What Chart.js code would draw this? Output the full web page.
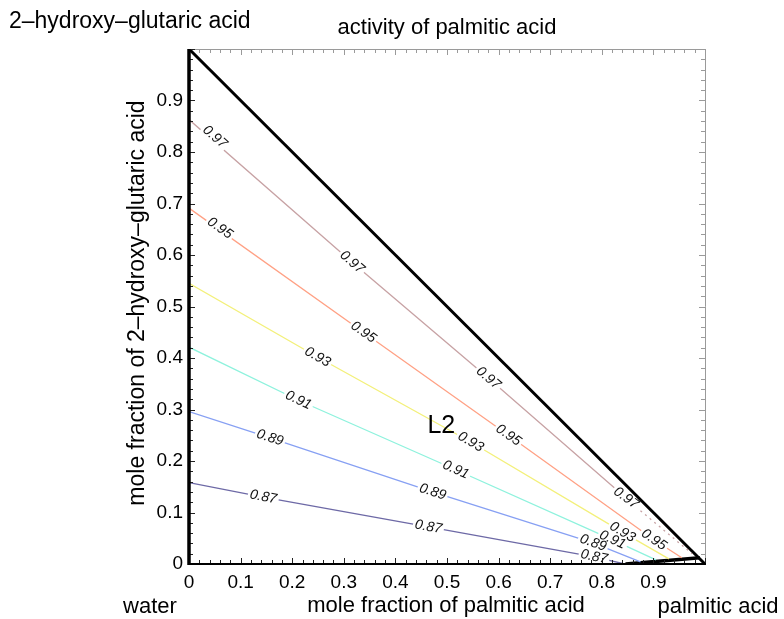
<!DOCTYPE html>
<html>
<head>
<meta charset="utf-8">
<script src="https://cdn.jsdelivr.net/npm/chart.js@4.4.0/dist/chart.umd.min.js"></script>
<style>
html, body { margin: 0; padding: 0; background: #fff; }
</style>
</head>
<body>
<canvas id="c" width="784" height="619"></canvas>
<script>
// contour lines (activity of palmitic acid)
const c97x = [0, 0.316, 0.58, 0.847, 0.866];
const c97y = [0.863, 0.586, 0.361, 0.128, 0.111];
const c97dx = [0.866, 0.975];
const c97dy = [0.111, 0.02];
const c95x = [0, 0.338, 0.619, 0.901, 0.955];
const c95y = [0.691, 0.45, 0.25, 0.047, 0.012];
const c93x = [0, 0.249, 0.546, 0.84, 0.93];
const c93y = [0.545, 0.402, 0.237, 0.062, 0.01];
const c91x = [0, 0.212, 0.517, 0.821, 0.905];
const c91y = [0.421, 0.318, 0.183, 0.047, 0.008];
const c89x = [0, 0.157, 0.472, 0.783, 0.875];
const c89y = [0.296, 0.245, 0.14, 0.041, 0.004];
const c87x = [0, 0.144, 0.464, 0.785, 0.84];
const c87y = [0.158, 0.13, 0.072, 0.014, 0.001];

// phase boundaries
const edgeX = [0, 1];
const edgeY = [1, 0];
const solidX = [0.846, 0.99];
const solidY = [0, 0.012];

// contour label positions
const lab97x = [0.05, 0.316, 0.58, 0.847];
const lab97y = [0.829, 0.586, 0.361, 0.128];
const lab95x = [0.06, 0.338, 0.619, 0.901];
const lab95y = [0.652, 0.45, 0.25, 0.047];
const lab93x = [0.249, 0.546, 0.84];
const lab93y = [0.402, 0.237, 0.062];
const lab91x = [0.212, 0.517, 0.821];
const lab91y = [0.318, 0.183, 0.047];
const lab89x = [0.157, 0.472, 0.783];
const lab89y = [0.245, 0.14, 0.041];
const lab87x = [0.144, 0.464, 0.785];
const lab87y = [0.13, 0.072, 0.014];

const tickValues = [0, 0.1, 0.2, 0.3, 0.4, 0.5, 0.6, 0.7, 0.8, 0.9];
const FONT = "'Liberation Sans', Arial, Helvetica, sans-serif";

function pts(xs, ys) {
    return xs.map((x, i) => ({ x: x, y: ys[i] }));
}

function line(xs, ys, color, width, dash) {
    return {
        data: pts(xs, ys),
        showLine: true,
        borderColor: color,
        borderWidth: width,
        borderDash: dash || [],
        pointRadius: 0,
        fill: false
    };
}

const contours = [
    { level: '0.97', xs: c97x, ys: c97y, lx: lab97x, ly: lab97y, color: '#c7a2a4' },
    { level: '0.95', xs: c95x, ys: c95y, lx: lab95x, ly: lab95y, color: '#ffa185' },
    { level: '0.93', xs: c93x, ys: c93y, lx: lab93x, ly: lab93y, color: '#f3f07a' },
    { level: '0.91', xs: c91x, ys: c91y, lx: lab91x, ly: lab91y, color: '#8ef2dd' },
    { level: '0.89', xs: c89x, ys: c89y, lx: lab89x, ly: lab89y, color: '#87a0f3' },
    { level: '0.87', xs: c87x, ys: c87y, lx: lab87x, ly: lab87y, color: '#6d69a6' }
];

function interp(xs, ys, x) {
    for (let i = 0; i < xs.length - 1; i++) {
        if (x >= xs[i] && x <= xs[i + 1]) {
            const t = (x - xs[i]) / (xs[i + 1] - xs[i]);
            return ys[i] + t * (ys[i + 1] - ys[i]);
        }
    }
    return ys[ys.length - 1];
}

const decor = {
    id: 'decor',
    afterDatasetsDraw(chart) {
        const ctx = chart.ctx;
        const xs = chart.scales.x, ys = chart.scales.y;
        const a = chart.chartArea;

        // contour labels
        ctx.save();
        ctx.font = 'italic 14px ' + FONT;
        ctx.textAlign = 'center';
        ctx.textBaseline = 'middle';
        contours.forEach(c => {
            c.lx.forEach((lx, i) => {
                const px = xs.getPixelForValue(lx);
                const py = ys.getPixelForValue(c.ly[i]);
                const x0 = Math.max(0, lx - 0.03), x1 = lx + 0.03;
                const dx = xs.getPixelForValue(x1) - xs.getPixelForValue(x0);
                const dy = ys.getPixelForValue(interp(c.xs, c.ys, x1)) - ys.getPixelForValue(interp(c.xs, c.ys, x0));
                const ang = Math.atan2(dy, dx);
                ctx.save();
                ctx.translate(px, py);
                ctx.rotate(ang);
                const w = ctx.measureText(c.level).width;
                ctx.fillStyle = '#fff';
                ctx.fillRect(-w / 2 - 2, -5, w + 4, 10);
                ctx.fillStyle = '#111';
                ctx.fillText(c.level, 0, 0);
                ctx.restore();
            });
        });
        ctx.restore();

        // frame and tick marks
        ctx.save();
        ctx.strokeStyle = '#9a9a9a';
        ctx.lineWidth = 1;
        ctx.beginPath();
        ctx.moveTo(a.left, a.top + 0.5);
        ctx.lineTo(a.right + 0.5, a.top + 0.5);
        ctx.lineTo(a.right + 0.5, a.bottom);
        ctx.stroke();
        for (let k = 0; k <= 50; k++) {
            const v = k / 50;
            const len = (k % 5 === 0) ? 6 : 4;
            const px = Math.round(xs.getPixelForValue(v)) + 0.5;
            const py = Math.round(ys.getPixelForValue(v)) + 0.5;
            ctx.strokeStyle = '#9a9a9a';
            ctx.beginPath();
            ctx.moveTo(px, a.top); ctx.lineTo(px, a.top + len);
            ctx.moveTo(a.right, py); ctx.lineTo(a.right - len, py);
            ctx.stroke();
            ctx.strokeStyle = '#222';
            ctx.beginPath();
            ctx.moveTo(px, a.bottom); ctx.lineTo(px, a.bottom - len);
            ctx.moveTo(a.left, py); ctx.lineTo(a.left + len, py);
            ctx.stroke();
        }
        ctx.strokeStyle = '#000';
        ctx.lineWidth = 2;
        ctx.beginPath();
        ctx.moveTo(a.left, a.bottom);
        ctx.lineTo(a.right + 1, a.bottom);
        ctx.stroke();
        ctx.lineWidth = 3.5;
        ctx.beginPath();
        ctx.moveTo(a.left, a.bottom + 1);
        ctx.lineTo(a.left, a.top);
        ctx.stroke();
        ctx.restore();

        // texts
        ctx.save();
        ctx.fillStyle = '#000';
        ctx.textBaseline = 'middle';
        ctx.font = '23px ' + FONT;
        ctx.textAlign = 'left';
        ctx.fillText('2\u2013hydroxy\u2013glutaric acid', 9, 22);
        ctx.font = '22px ' + FONT;
        ctx.textAlign = 'center';
        ctx.fillText('activity of palmitic acid', 447, 28);
        ctx.fillText('mole fraction of palmitic acid', 446, 606);
        ctx.fillText('water', 150, 607);
        ctx.fillText('palmitic acid', 718, 607);
        ctx.font = '25px ' + FONT;
        ctx.fillText('L2', xs.getPixelForValue(0.489), ys.getPixelForValue(0.267));
        ctx.save();
        ctx.font = '23px ' + FONT;
        ctx.translate(138, 303);
        ctx.rotate(-Math.PI / 2);
        ctx.fillText('mole fraction of 2\u2013hydroxy\u2013glutaric acid', 0, 0);
        ctx.restore();
        ctx.restore();
    }
};

const axisFmt = v => tickValues.some(t => Math.abs(t - v) < 1e-6) ? String(Number(v.toFixed(1))) : '';

new Chart(document.getElementById('c'), {
    type: 'scatter',
    data: {
        datasets: [
            ...contours.map(c => line(c.xs, c.ys, c.color, 1.3)),
            line(c97dx, c97dy, '#c7a2a4', 1.3, [2, 4]),
            line(edgeX, edgeY, '#000', 3),
            line(solidX, solidY, '#000', 3.5)
        ]
    },
    options: {
        responsive: false,
        animation: false,
        layout: { padding: { left: 129, right: 79, top: 49, bottom: 25 } },
        plugins: { legend: { display: false }, tooltip: { enabled: false } },
        scales: {
            x: {
                type: 'linear', min: 0, max: 1,
                grid: { display: false, drawTicks: false }, border: { display: false },
                ticks: { stepSize: 0.1, autoSkip: false, maxRotation: 0, padding: 7, color: '#000', font: { size: 19, family: FONT }, callback: axisFmt },
                afterFit(s) { s.height = 30; }
            },
            y: {
                type: 'linear', min: 0, max: 1,
                grid: { display: false, drawTicks: false }, border: { display: false },
                ticks: { stepSize: 0.1, autoSkip: false, padding: 6, color: '#000', font: { size: 19, family: FONT }, callback: axisFmt },
                afterFit(s) { s.width = 60; }
            }
        }
    },
    plugins: [decor]
});
</script>
</body>
</html>
